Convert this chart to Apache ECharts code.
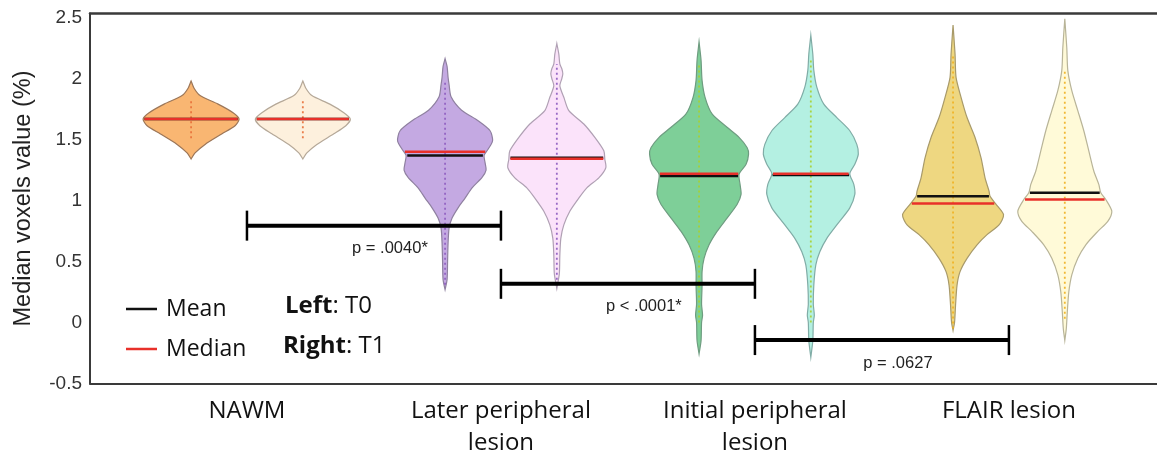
<!DOCTYPE html>
<html>
<head>
<meta charset="utf-8">
<script src="https://cdn.jsdelivr.net/npm/echarts@6/dist/echarts.min.js"></script>
<style>html,body{margin:0;padding:0;background:#fff}#c{width:1157px;height:462px}</style>
</head>
<body>
<div id="c"></div>
<script>
// ---------- DATA ----------
const categories = ['NAWM', 'Later peripheral\nlesion', 'Initial peripheral\nlesion', 'FLAIR lesion'];
const timepoints = ['T0', 'T1'];

// violin profiles: [value (%), density (arbitrary units)] from bottom tip to top tip
const nawmT0 = [[1.34,0],[1.39,4],[1.46,14],[1.547,31],[1.613,44],[1.668,48],[1.72,42],[1.79,27],[1.86,9],[1.92,3],[1.98,0]];
const nawmT1 = [[1.34,0],[1.39,4],[1.46,14],[1.547,31],[1.613,43],[1.668,47.5],[1.72,41],[1.79,27],[1.86,9],[1.92,3],[1.98,0]];
const laterT0 = [[0.27,0],[0.35,2],[0.5,2.5],[0.65,3],[0.774,4],[0.856,7],[0.94,13],[1.02,20],[1.104,27],[1.19,37],[1.25,41],[1.31,40],[1.37,39],[1.42,43],[1.49,47.5],[1.572,45],[1.654,33],[1.74,16.5],[1.85,6],[1.95,4],[2.01,3],[2.10,2],[2.163,0]];
const laterT1 = [[0.28,0],[0.4,2.5],[0.55,3],[0.69,4],[0.80,7],[0.912,13],[1.02,22],[1.104,30],[1.186,42],[1.269,49],[1.338,48],[1.407,47],[1.517,38],[1.627,27],[1.737,12],[1.846,7],[1.94,3],[2.0,5],[2.04,6],[2.08,5],[2.12,3],[2.2,2],[2.287,0]];
const initialT0 = [[-0.257,0],[-0.15,2],[0.0,2.5],[0.06,3.5],[0.15,2.5],[0.3,3],[0.417,3],[0.526,5],[0.637,10],[0.747,18],[0.856,28],[0.967,38],[1.05,42],[1.132,41],[1.215,40],[1.297,47],[1.38,49.5],[1.434,48],[1.517,40],[1.60,28],[1.71,13],[1.846,6],[1.985,3],[2.15,2],[2.30,0]];
const initialT1 = [[-0.285,0],[-0.15,2],[0.0,2.5],[0.06,3.5],[0.15,2.5],[0.307,3],[0.472,5],[0.58,9],[0.69,16],[0.80,26],[0.94,39],[1.05,44],[1.132,43],[1.22,39],[1.297,44],[1.38,47.5],[1.46,46],[1.572,39],[1.68,26],[1.79,13],[1.93,6],[2.067,3],[2.2,2],[2.355,0]];
const flairT0 = [[-0.065,0],[0.0,1.5],[0.142,2.5],[0.307,4],[0.417,7],[0.526,14],[0.637,24],[0.72,34],[0.80,46],[0.884,50.5],[0.975,42.5],[1.035,37],[1.077,36],[1.186,32],[1.35,28],[1.517,22],[1.68,14],[1.846,8],[2.01,3],[2.2,2],[2.438,0]];
const flairT1 = [[-0.147,0],[-0.05,1.5],[0.087,2.5],[0.25,4],[0.39,7],[0.526,13],[0.637,21],[0.747,33],[0.829,43],[0.912,47],[1.008,41],[1.063,36],[1.132,34],[1.242,29],[1.407,24],[1.572,19],[1.737,13],[1.90,7],[2.067,3],[2.25,2],[2.49,0]];

// per group [T0, T1]
const means   = [[1.668, 1.668], [1.37, 1.35], [1.20, 1.21], [1.035, 1.063]];
const medians = [[1.668, 1.668], [1.40, 1.343], [1.22, 1.22], [0.975, 1.008]];
// range of the individual points (dotted strip) per violin
const pointRanges = [[[1.51, 1.82], [1.51, 1.82]], [[0.31, 1.98], [0.35, 2.12]], [[0.0, 2.12], [0.0, 2.15]], [[-0.05, 2.2], [0.03, 2.07]]];
// comparisons: [from group, to group, bar level, label]
const comparisons = [[1, 2, 0.794, 'p = .0040*'], [2, 3, 0.317, 'p < .0001*'], [3, 4, -0.144, 'p = .0627']];

// ---------- STYLE ----------
const profiles = [[nawmT0, nawmT1], [laterT0, laterT1], [initialT0, initialT1], [flairT0, flairT1]];
const fills   = [['#f9b672', '#fdf0dd'], ['#c4a9e2', '#fbe3fa'], ['#7ecf98', '#b4f0e2'], ['#eed781', '#fffad8']];
const strokes = [['#9c7658', '#b5a898'], ['#8f80a0', '#b0a0b4'], ['#6e9c80', '#80aca6'], ['#a89a6a', '#b8b498']];
const dotColors = ['#e8703a', '#8e5cc0', '#a8d030', '#f0b020'];
const SIDE = 0.22;              // offset of T0/T1 from group centre (x units)
const HALF = 50 / 254;          // x units for density 50

function posOf(g, t) { return (g + 1) + (t === 0 ? -SIDE : SIDE); }
function widthAt(prof, y) {
  for (let k = 0; k < prof.length - 1; k++) {
    const a = prof[k], b = prof[k + 1];
    if (y >= a[0] && y <= b[0]) return a[1] + (b[1] - a[1]) * (y - a[0]) / (b[0] - a[0]);
  }
  return 0;
}

const violinData = [], meanData = [], medianData = [];
for (let g = 0; g < 4; g++) for (let t = 0; t < 2; t++) {
  violinData.push([posOf(g, t), g, t]);
  meanData.push([posOf(g, t), means[g][t], g, t]);
  medianData.push([posOf(g, t), medians[g][t], g, t]);
}

function renderViolin(params, api) {
  const x = api.value(0), g = api.value(1), t = api.value(2);
  const prof = profiles[g][t];
  const pts = [];
  for (let k = 0; k < prof.length; k++) pts.push(api.coord([x + prof[k][1] / 50 * HALF, prof[k][0]]));
  for (let k = prof.length - 1; k >= 0; k--) pts.push(api.coord([x - prof[k][1] / 50 * HALF, prof[k][0]]));
  const r = pointRanges[g][t];
  const p0 = api.coord([x, r[0]]), p1 = api.coord([x, r[1]]);
  return {
    type: 'group',
    children: [
      { type: 'polygon', shape: { points: pts, smooth: 0.25 }, style: { fill: fills[g][t], stroke: strokes[g][t], lineWidth: 1.2 } },
      { type: 'line', shape: { x1: p0[0], y1: p0[1], x2: p1[0], y2: p1[1] }, style: { stroke: dotColors[g], lineWidth: 1.8, lineDash: [2, 3], opacity: 0.9 } }
    ]
  };
}
function makeStatLine(color) {
  return function (params, api) {
    const x = api.value(0), y = api.value(1), g = api.value(2), t = api.value(3);
    const w = widthAt(profiles[g][t], y) / 50 * HALF * 0.97;
    const a = api.coord([x - w, y]), b = api.coord([x + w, y]);
    return { type: 'line', shape: { x1: a[0], y1: a[1], x2: b[0], y2: b[1] }, style: { stroke: color, lineWidth: 2.5 } };
  };
}
function renderComparison(params, api) {
  const c = comparisons[params.dataIndex];
  const a = api.coord([c[0], c[2]]), b = api.coord([c[1], c[2]]);
  return {
    type: 'group',
    children: [
      { type: 'line', shape: { x1: a[0], y1: a[1], x2: b[0], y2: b[1] }, style: { stroke: '#000', lineWidth: 4 } },
      { type: 'line', shape: { x1: a[0], y1: a[1] - 15, x2: a[0], y2: a[1] + 15 }, style: { stroke: '#000', lineWidth: 2.5 } },
      { type: 'line', shape: { x1: b[0], y1: b[1] - 15, x2: b[0], y2: b[1] + 15 }, style: { stroke: '#000', lineWidth: 2.5 } },
      { type: 'text', style: { text: c[3], x: (a[0] + b[0]) / 2 + 16, y: a[1] + 23, align: 'center', verticalAlign: 'middle', fontFamily: 'Liberation Sans', fontSize: 16.5, fill: '#222' } }
    ]
  };
}

const chart = echarts.init(document.getElementById('c'), null, { renderer: 'canvas' });
const xRange = { min: 0.382, max: 4.583 };
chart.setOption({
  backgroundColor: '#fff',
  animation: false,
  grid: { left: 90, right: 0, top: 13.5, bottom: 78.5 },
  xAxis: [{
    type: 'value', min: xRange.min, max: xRange.max,
    axisLine: { show: true, onZero: false, lineStyle: { color: '#3a3a3a', width: 2 } },
    axisTick: { show: false }, splitLine: { show: false },
    axisLabel: { customValues: [1, 2, 3, 4], formatter: v => categories[Math.round(v) - 1], fontFamily: 'Open Sans', fontSize: 24, color: '#111', margin: 12, lineHeight: 32 }
  }, {
    type: 'value', position: 'top', min: xRange.min, max: xRange.max,
    axisLine: { show: true, onZero: false, lineStyle: { color: '#3a3a3a', width: 2.5 } },
    axisTick: { show: false }, splitLine: { show: false }, axisLabel: { show: false }
  }],
  yAxis: {
    type: 'value', min: -0.5, max: 2.533, interval: 0.5,
    axisLine: { show: true, onZero: false, lineStyle: { color: '#3a3a3a', width: 2 } },
    axisTick: { show: false }, splitLine: { show: false },
    axisLabel: { fontFamily: 'Liberation Sans', fontSize: 19, color: '#333', margin: 8,
      formatter: v => (Math.abs(v * 2 - Math.round(v * 2)) < 1e-6 ? String(v) : '') },
    name: 'Median voxels value (%)', nameLocation: 'middle', nameGap: 54,
    nameTextStyle: { fontFamily: 'Liberation Sans', fontSize: 23.5, color: '#222' }
  },
  legend: {
    data: [{ name: 'Mean', icon: 'rect' }, { name: 'Median', icon: 'rect' }],
    orient: 'vertical', left: 121, top: 292, itemWidth: 31, itemHeight: 2.5, itemGap: 16, selectedMode: false,
    textStyle: { fontFamily: 'Open Sans', fontSize: 23, color: '#111', lineHeight: 24, padding: [0, 0, 0, 4] }
  },
  graphic: [
    { type: 'text', left: 285, top: 294, style: { text: '{b|Left}: T0', fontFamily: 'Open Sans', fontSize: 24, fill: '#111', rich: { b: { fontFamily: 'Open Sans', fontSize: 24, fontWeight: 'bold', fill: '#111' } } } },
    { type: 'text', left: 283, top: 334, style: { text: '{b|Right}: T1', fontFamily: 'Open Sans', fontSize: 24, fill: '#111', rich: { b: { fontFamily: 'Open Sans', fontSize: 24, fontWeight: 'bold', fill: '#111' } } } }
  ],
  series: [
    { type: 'custom', name: 'violins', renderItem: renderViolin, data: violinData, encode: { x: 0, y: 1 }, silent: true, clip: false },
    { type: 'custom', name: 'Mean', renderItem: makeStatLine('#111111'), data: meanData, encode: { x: 0, y: 1 }, itemStyle: { color: '#111111' }, silent: true },
    { type: 'custom', name: 'Median', renderItem: makeStatLine('#e8302a'), data: medianData, encode: { x: 0, y: 1 }, itemStyle: { color: '#e8302a' }, silent: true },
    { type: 'custom', name: 'comparisons', renderItem: renderComparison, data: comparisons.map(c => [c[0], c[2]]), encode: { x: 0, y: 1 }, silent: true, clip: false }
  ]
});
</script>
</body>
</html>
